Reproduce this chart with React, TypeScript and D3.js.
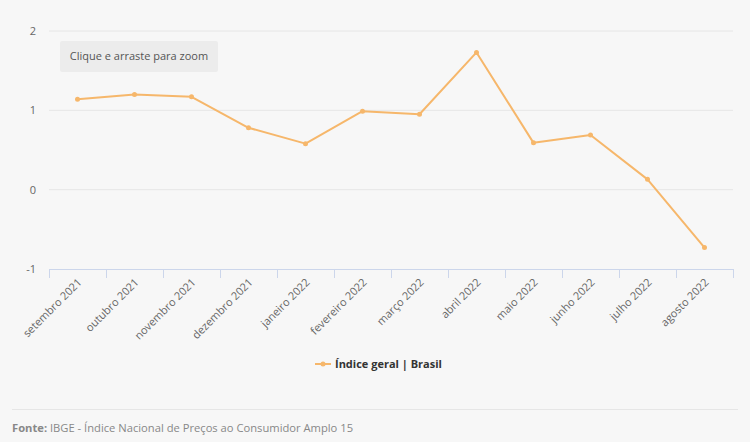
import * as d3 from "d3";

const months = [
  "setembro 2021", "outubro 2021", "novembro 2021", "dezembro 2021",
  "janeiro 2022", "fevereiro 2022", "março 2022", "abril 2022",
  "maio 2022", "junho 2022", "julho 2022", "agosto 2022",
];
const indiceGeral = [1.14, 1.2, 1.17, 0.78, 0.58, 0.99, 0.95, 1.73, 0.59, 0.69, 0.13, -0.73];
const yTicks = [-1, 0, 1, 2];

const W = 750;
const H = 442;
const left = 49;
const right = 733;
const top = 31;
const bottom = 269;
const font = "'Open Sans', sans-serif";
const orange = "#f6b76b";

export default function App() {
  const x = d3.scaleBand<string>().domain(months).range([left, right]);
  const y = d3.scaleLinear([-1, 2], [bottom, top]);
  const line = d3.line<number>((d, i) => x(months[i])! + x.bandwidth() / 2, (d) => y(d));
  const edges = months.map((m) => x(m)!).concat([right]);

  return (
    <svg width={W} height={H} style={{ position: "absolute", left: 0, top: 0, display: "block" }} fontFamily={font}>
      <rect width={W} height={H} fill="#f7f7f7" />
      {yTicks.map((t) => (
        <g key={t}>
          {t !== -1 && <line x1={left} x2={right} y1={y(t)} y2={y(t)} stroke="#e6e6e6" strokeWidth={1} />}
          <text x={36} y={y(t) + 4} textAnchor="end" fontSize={11} fill="#666">{t}</text>
        </g>
      ))}
      <line x1={left} x2={right} y1={bottom + 0.5} y2={bottom + 0.5} stroke="#ccd6eb" />
      {edges.map((e, i) => (
        <line key={i} x1={e + 0.5} x2={e + 0.5} y1={bottom} y2={bottom + 9} stroke="#ccd6eb" />
      ))}
      {months.map((m) => {
        const cx = x(m)! + x.bandwidth() / 2 + 5;
        const cy = bottom + 14;
        return (
          <text key={m} x={cx} y={cy} transform={`rotate(-45 ${cx} ${cy})`} textAnchor="end" fontSize={11} fill="#666">
            {m}
          </text>
        );
      })}
      <rect x={60} y={41} width={158} height={31} rx={2} fill="#ececec" />
      <text x={139} y={60} textAnchor="middle" fontSize={11} fill="#555">Clique e arraste para zoom</text>
      <path d={line(indiceGeral)!} fill="none" stroke={orange} strokeWidth={2} strokeLinejoin="round" />
      {indiceGeral.map((v, i) => (
        <circle key={i} cx={x(months[i])! + x.bandwidth() / 2} cy={y(v)} r={2.5} fill={orange} />
      ))}
      <g>
        <line x1={315} x2={331} y1={364} y2={364} stroke={orange} strokeWidth={2} />
        <circle cx={323} cy={364} r={2.5} fill={orange} />
        <text x={335} y={368} fontSize={11} fontWeight="bold" fill="#333">Índice geral | Brasil</text>
      </g>
      <line x1={12} x2={738} y1={409.5} y2={409.5} stroke="#e6e6e6" strokeWidth={1} />
      <text x={12} y={432} fontSize={11.2} fill="#888">
        <tspan fontWeight="bold">Fonte:</tspan> IBGE - Índice Nacional de Preços ao Consumidor Amplo 15
      </text>
    </svg>
  );
}
